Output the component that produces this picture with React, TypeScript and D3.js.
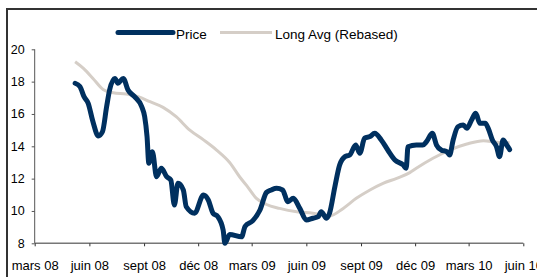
import React, { useRef, useEffect } from "react";
import * as d3 from "d3";

// weekly-ish readings
const priceDates = [
  "2008-05-08", "2008-05-16", "2008-05-23", "2008-05-30", "2008-06-07", "2008-06-16", "2008-06-23", "2008-06-30",
  "2008-07-05", "2008-07-14", "2008-07-19", "2008-07-28", "2008-08-05", "2008-08-16", "2008-08-28", "2008-09-02",
  "2008-09-06", "2008-09-09", "2008-09-15", "2008-09-22", "2008-09-30", "2008-10-09", "2008-10-16", "2008-10-22",
  "2008-10-28", "2008-11-06", "2008-11-11", "2008-11-25", "2008-12-10", "2008-12-18", "2008-12-26", "2009-01-03",
  "2009-01-12", "2009-01-15", "2009-01-23", "2009-02-12", "2009-02-18", "2009-03-03", "2009-03-15", "2009-03-26",
  "2009-04-03", "2009-04-12", "2009-04-22", "2009-05-01", "2009-05-10", "2009-05-21", "2009-06-01", "2009-06-12",
  "2009-06-21", "2009-06-26", "2009-07-05", "2009-07-10", "2009-07-19", "2009-07-27", "2009-08-05", "2009-08-13",
  "2009-08-23", "2009-08-30", "2009-09-07", "2009-09-16", "2009-09-24", "2009-10-05", "2009-10-16", "2009-10-28",
  "2009-11-11", "2009-11-16", "2009-11-19", "2009-12-03", "2009-12-14", "2009-12-20", "2009-12-30", "2010-01-06",
  "2010-01-14", "2010-01-23", "2010-01-28", "2010-02-03", "2010-02-11", "2010-02-20", "2010-02-26", "2010-03-06",
  "2010-03-13", "2010-03-20", "2010-03-29", "2010-04-03", "2010-04-10", "2010-04-17", "2010-04-22", "2010-04-28",
  "2010-05-04", "2010-05-09",
];
const priceValues = [
  17.9, 17.7, 17.07, 16.66, 15.52, 14.64, 14.9, 16.45,
  17.48, 18.2, 17.9, 18.2, 17.48, 17.07, 16.45, 15.83,
  14.6, 12.95, 13.67, 12.12, 12.64, 12.12, 11.91, 10.37,
  11.71, 11.3, 10.26, 9.86, 10.99, 10.68, 9.86, 9.65,
  8.82, 8.0, 8.55, 8.4, 9.05, 9.4, 10.06, 11.15,
  11.3, 11.4, 11.3, 10.57, 10.78, 10.16, 9.44, 9.55,
  9.65, 9.95, 9.55, 9.86, 11.5, 12.84, 13.36, 13.46,
  14.08, 13.57, 14.5, 14.6, 14.8, 14.39, 13.77, 13.15,
  12.84, 12.64, 13.97, 14.08, 14.08, 14.28, 14.8, 14.08,
  13.77, 13.67, 13.46, 14.39, 15.21, 15.32, 15.11, 15.63,
  16.04, 15.42, 15.42, 15.11, 14.39, 13.97, 13.36, 14.39,
  14.08, 13.8,
];

const avgDates = [
  "2008-05-08", "2008-05-22", "2008-06-07", "2008-06-24", "2008-07-11", "2008-08-02", "2008-08-22", "2008-09-11",
  "2008-10-03", "2008-10-25", "2008-11-17", "2008-12-10", "2009-01-01", "2009-01-23", "2009-02-09", "2009-02-21",
  "2009-03-09", "2009-03-26", "2009-04-17", "2009-05-16", "2009-06-12", "2009-07-10", "2009-08-02", "2009-08-24",
  "2009-09-16", "2009-10-08", "2009-10-31", "2009-11-22", "2009-12-03", "2009-12-31", "2010-01-28", "2010-02-26",
  "2010-03-26", "2010-04-17", "2010-05-09",
];
const avgValues = [
  19.23, 18.82, 18.2, 17.52, 17.31, 17.23, 17.07, 16.76,
  16.41, 15.83, 15.0, 14.4, 13.77, 13.0, 12.1, 11.55,
  10.78, 10.4, 10.16, 9.95, 9.86, 9.69, 10.16, 10.78,
  11.3, 11.71, 12.02, 12.37, 12.64, 13.26, 13.77, 14.14,
  14.35, 14.25, 14.22,
];

const tickDates = [
  "2008-03-01", "2008-06-01", "2008-09-01", "2008-12-01", "2009-03-01",
  "2009-06-01", "2009-09-01", "2009-12-01", "2010-03-01", "2010-06-01",
];
const tickLabels = [
  "mars 08", "juin 08", "sept 08", "déc 08", "mars 09",
  "juin 09", "sept 09", "déc 09", "mars 10", "juin 10",
];
const yTicks = [8, 10, 12, 14, 16, 18, 20];

const seriesNames = ["Price", "Long Avg (Rebased)"];
const seriesColors = ["#00305f", "#d5cec7"];

const parse = d3.utcParse("%Y-%m-%d");
const FONT = "'Liberation Sans', Arial, sans-serif";

const App = () => {
  const svgRef = useRef(null);

  useEffect(() => {
    const svg = d3.select(svgRef.current);
    svg.selectAll("*").remove();

    const x = d3
      .scaleUtc()
      .domain([parse(tickDates[0]), parse(tickDates[tickDates.length - 1])])
      .range([34.7, 523.3]);
    const y = d3.scaleLinear().domain([8, 20]).range([243.3, 49.3]);

    // outer frame (only top and left visible)
    svg.append("path")
      .attr("d", "M7,277 V9 H537")
      .attr("fill", "none")
      .attr("stroke", "#333")
      .attr("stroke-width", 2);

    // y axis
    const yAxis = svg.append("g").attr("transform", "translate(34.7,0)")
      .call(d3.axisLeft(y).tickValues(yTicks).tickSize(3).tickPadding(7).tickFormat(d3.format("d")));
    yAxis.select(".domain").attr("stroke", "#555").attr("d", `M0,${y(20)}V${y(8)}`);
    yAxis.selectAll(".tick line").attr("stroke", "#555");
    yAxis.selectAll("text").attr("font-family", FONT).attr("font-size", 12.5).attr("fill", "#000");

    // x axis
    const xAxis = svg.append("g").attr("transform", `translate(0,${y(8)})`)
      .call(d3.axisBottom(x).tickValues(tickDates.map(parse)).tickSize(3).tickPadding(0)
        .tickFormat((d, i) => tickLabels[i]));
    xAxis.select(".domain").attr("stroke", "#777").attr("stroke-width", 1.5).attr("d", `M${x.range()[0]},0H${x.range()[1]}`);
    xAxis.selectAll(".tick line").attr("stroke", "#333");
    xAxis.selectAll("text")
      .attr("font-family", FONT).attr("font-size", 13).attr("fill", "#000")
      .attr("dy", null).attr("y", 27);

    const line = d3.line()
      .x((d) => x(d[0]))
      .y((d) => y(d[1]))
      .curve(d3.curveMonotoneX);

    const avg = avgDates.map((d, i) => [parse(d), avgValues[i]]);
    const price = priceDates.map((d, i) => [parse(d), priceValues[i]]);

    svg.append("path").attr("d", line(avg)).attr("fill", "none")
      .attr("stroke", seriesColors[1]).attr("stroke-width", 3).attr("stroke-linejoin", "round");
    svg.append("path").attr("d", line(price)).attr("fill", "none")
      .attr("stroke", seriesColors[0]).attr("stroke-width", 5)
      .attr("stroke-linejoin", "round").attr("stroke-linecap", "round");

    // legend
    const legendX = [118, 220];
    const legendW = [55, 52];
    const legendSW = [5, 3];
    seriesNames.forEach((name, i) => {
      svg.append("line")
        .attr("x1", legendX[i]).attr("x2", legendX[i] + legendW[i])
        .attr("y1", 32.5).attr("y2", 32.5)
        .attr("stroke", seriesColors[i]).attr("stroke-width", legendSW[i])
        .attr("stroke-linecap", i === 0 ? "round" : "butt");
      svg.append("text")
        .attr("x", legendX[i] + legendW[i] + 3).attr("y", 39)
        .attr("font-family", FONT).attr("font-size", 13.5)
        .text(name);
    });
  }, []);

  return (
    <svg ref={svgRef} width={537} height={277}
      style={{ position: "absolute", left: 0, top: 0, background: "#fff" }} />
  );
};

export default App;
